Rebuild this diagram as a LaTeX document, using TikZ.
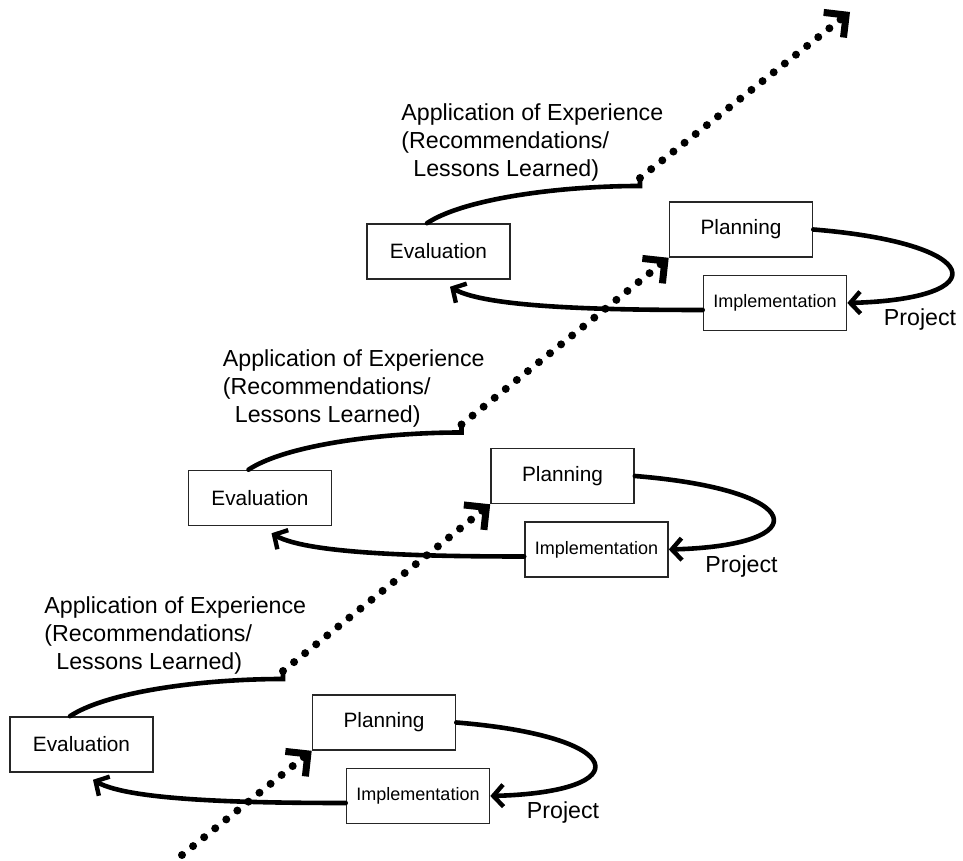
\documentclass[tikz,border=0pt]{standalone}
\usepackage{fontspec}
\setmainfont{Liberation Sans}
\usetikzlibrary{arrows.meta}

\begin{document}
\begin{tikzpicture}[x=0.5pt,y=0.5pt]
		% Define styles for the boxes, labels and the curves
		\tikzset{stage/.style={draw=black!85, line width=0.8pt, minimum width=71.5pt, minimum height=27.5pt, inner sep=0pt, font=\fontsize{10.4}{12}\selectfont}}
		\tikzset{note/.style={inner sep=0pt, align=left, font=\fontsize{11.6}{14}\selectfont}}
		\tikzset{sweep/.style={line width=2.3pt, line cap=round}}
		\tikzset{barb/.style={-{Straight Barb[length=5pt,width=11pt,line width=2.2pt]}}}
		\tikzset{trail/.style={line width=4pt, dash pattern=on 0pt off 7.1pt, line cap=round, -{Straight Barb[length=8pt,width=16pt,line width=3.5pt]}}}
		
		\useasboundingbox (0,0) rectangle (963,861);
		
		% Draw the three project cycles, each one shifted up and to the right
		\foreach \k/\dx/\dy in {1/0/0, 2/178.5/246.5, 3/357/493}{
			\begin{scope}[shift={(\dx,\dy)}]
				\node[stage] (eval\k) at (81.5,116.5) {Evaluation};
				\node[stage] (plan\k) at (384,138.5) {Planning};
				\node[stage, font=\fontsize{9}{10}\selectfont] (impl\k) at (418,65) {Implementation};
				\node[note] (proj\k) at (563,48) {Project};
				\node[note, anchor=north west] (lesson\k) at (44,265) {Application of Experience\\(Recommendations/\\\hspace*{6pt}Lessons Learned)};
				\coordinate (turn\k) at (283,182);
				\coordinate (lift\k) at (283,190);
				
				% Planning to implementation, back to evaluation
				\draw[sweep,barb] (plan\k.east) .. controls +(173,-14) and +(149,4) .. (impl\k.east);
				\draw[sweep,barb] ([yshift=-3.5pt]impl\k.west) .. controls +(-96,0) and +(37,-21) .. ([xshift=5.75pt,yshift=-3.5pt]eval\k.south);
				
				% Experience carried forward
				\draw[sweep] ([xshift=-5.75pt]eval\k.north) .. controls +(36,24) and +(-83,0) .. (turn\k) -- (lift\k);
			\end{scope}
		}
		
		% Dotted line climbing through the cycles
		\coordinate (start) at (182,6);
		\coordinate (finish) at (850,849);
		\draw[trail] (start) -- (plan1.south west);
		\draw[trail] (lift1) -- (plan2.south west);
		\draw[trail] (lift2) -- (plan3.south west);
		\draw[trail] (lift3) -- (finish);
	\end{tikzpicture}
\end{document}
